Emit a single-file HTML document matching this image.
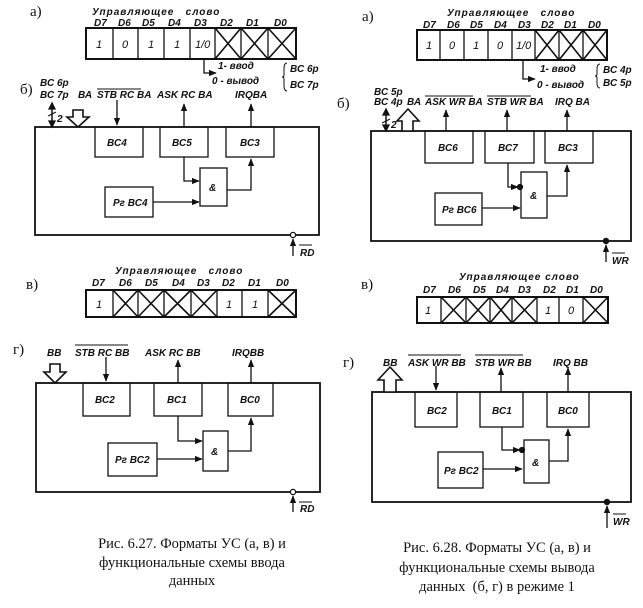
<!DOCTYPE html>
<html><head><meta charset="utf-8"><style>
html,body{margin:0;padding:0;background:#fff;}
svg{display:block;}
.l{font-family:"Liberation Sans","DejaVu Sans",sans-serif;font-style:italic;font-weight:bold;font-size:10px;fill:#111;}
.v{font-family:"Liberation Sans","DejaVu Sans",sans-serif;font-style:italic;font-size:11px;fill:#111;}
.p{font-family:"Liberation Serif","DejaVu Serif",serif;font-size:15px;fill:#111;}
.c{font-family:"Liberation Serif","DejaVu Serif",serif;font-size:14.5px;fill:#111;}
</style></head><body>
<svg width="643" height="608" viewBox="0 0 643 608" xmlns="http://www.w3.org/2000/svg">
<defs>
<marker id="a" viewBox="0 0 10 10" refX="9" refY="5" markerWidth="6" markerHeight="6" orient="auto"><path d="M0,1 L10,5 L0,9 z" fill="#111"/></marker>
</defs>
<g stroke="#111" fill="none" stroke-width="1.3">

<!-- ===== LEFT a) ===== -->
<rect x="86" y="28" width="210" height="31" stroke-width="2"/>
<path d="M113 28V59M138 28V59M164 28V59M190 28V59M215 28V59M241 28V59M268 28V59"/>
<path d="M215 28L241 59M241 28L215 59M241 28L268 59M268 28L241 59M268 28L296 59M296 28L268 59" stroke-width="1.6"/>
<path d="M204 59V73H216" marker-end="url(#a)"/>
<path d="M287 63q-3 0 -3 6v6q0 2 -2 2q2 0 2 2v6q0 6 3 6" stroke-width="1"/>

<!-- LEFT б) -->
<rect x="35" y="127" width="284" height="108" stroke-width="1.8"/>
<rect x="95" y="127" width="48" height="30"/>
<rect x="160" y="127" width="48" height="30"/>
<rect x="226" y="127" width="48" height="30"/>
<rect x="200" y="168" width="27" height="38"/>
<rect x="105" y="187" width="48" height="30"/>
<polygon points="73,110 83,110 83,117 89,117 78,127 67,117 73,117" stroke-width="1.6" fill="#fff"/>
<path d="M52 103V127" stroke-width="1.5"/>
<path d="M52 103l-3 6h6z M52 127l-3 -6h6z" fill="#111"/>
<path d="M48 116l8 -4" stroke-width="1"/>
<path d="M117 100V125" marker-end="url(#a)"/>
<path d="M184 127V104" marker-end="url(#a)"/>
<path d="M251 127V104" marker-end="url(#a)"/>
<path d="M184 157V181H199" marker-end="url(#a)"/>
<path d="M153 202H199" marker-end="url(#a)"/>
<path d="M227 190H251V159" marker-end="url(#a)"/>
<path d="M293 256V239" marker-end="url(#a)"/>
<circle cx="293" cy="235" r="2.6" fill="#fff"/>
<path d="M299 245H312" stroke-width="1"/>

<!-- ===== LEFT в) ===== -->
<rect x="86" y="290" width="210" height="27" stroke-width="2"/>
<path d="M113 290V317M138 290V317M164 290V317M191 290V317M217 290V317M242 290V317M268 290V317"/>
<path d="M113 290L138 317M138 290L113 317M138 290L164 317M164 290L138 317M164 290L191 317M191 290L164 317M191 290L217 317M217 290L191 317M268 290L296 317M296 290L268 317" stroke-width="1.6"/>

<!-- LEFT г) -->
<rect x="36" y="383" width="284" height="109" stroke-width="1.8"/>
<rect x="83" y="383" width="47" height="33"/>
<rect x="154" y="383" width="48" height="33"/>
<rect x="228" y="383" width="45" height="33"/>
<rect x="203" y="431" width="25" height="40"/>
<rect x="108" y="443" width="49" height="33"/>
<polygon points="50,364 60,364 60,372 66,372 55,383 44,372 50,372" stroke-width="1.6" fill="#fff"/>
<path d="M106 357V381" marker-end="url(#a)"/>
<path d="M178 383V360" marker-end="url(#a)"/>
<path d="M251 383V360" marker-end="url(#a)"/>
<path d="M178 416V441H202" marker-end="url(#a)"/>
<path d="M157 459H202" marker-end="url(#a)"/>
<path d="M228 451H251V418" marker-end="url(#a)"/>
<path d="M293 512V496" marker-end="url(#a)"/>
<circle cx="293" cy="492" r="2.6" fill="#fff"/>
<path d="M299 502H312" stroke-width="1"/>

<!-- ===== RIGHT a) ===== -->
<rect x="417" y="30" width="190" height="30" stroke-width="2"/>
<path d="M440 30V60M464 30V60M488 30V60M512 30V60M535 30V60M559 30V60M583 30V60"/>
<path d="M535 30L559 60M559 30L535 60M559 30L583 60M583 30L559 60M583 30L607 60M607 30L583 60" stroke-width="1.6"/>
<path d="M523 60V79H535" marker-end="url(#a)"/>
<path d="M600 64q-3 0 -3 5v5q0 2 -2 2q2 0 2 2v5q0 5 3 5" stroke-width="1"/>

<!-- RIGHT б) -->
<rect x="371" y="131" width="260" height="110" stroke-width="1.8"/>
<rect x="425" y="131" width="48" height="32"/>
<rect x="485" y="131" width="49" height="32"/>
<rect x="545" y="131" width="48" height="32"/>
<rect x="521" y="172" width="26" height="46"/>
<rect x="435" y="193" width="47" height="32"/>
<polygon points="402,131 413,131 413,121 419,121 408,109 397,121 402,121" stroke-width="1.6" fill="#fff"/>
<path d="M386 109V131" stroke-width="1.5"/>
<path d="M386 109l-3 6h6z M386 131l-3 -6h6z" fill="#111"/>
<path d="M382 123l8 -4" stroke-width="1"/>
<path d="M446 131V110" marker-end="url(#a)"/>
<path d="M507 131V110" marker-end="url(#a)"/>
<path d="M567 131V110" marker-end="url(#a)"/>
<path d="M508 163V187H518" marker-end="url(#a)"/>
<circle cx="520" cy="187" r="2.5" fill="#111"/>
<path d="M482 208H520" marker-end="url(#a)"/>
<path d="M547 196H567V165" marker-end="url(#a)"/>
<path d="M606 262V245" marker-end="url(#a)"/>
<circle cx="606" cy="241" r="2.6" fill="#111"/>
<path d="M612 253H625" stroke-width="1"/>

<!-- ===== RIGHT в) ===== -->
<rect x="417" y="297" width="191" height="26" stroke-width="2"/>
<path d="M441 297V323M466 297V323M490 297V323M512 297V323M537 297V323M559 297V323M583 297V323"/>
<path d="M441 297L466 323M466 297L441 323M466 297L490 323M490 297L466 323M490 297L512 323M512 297L490 323M512 297L537 323M537 297L512 323M583 297L608 323M608 297L583 323" stroke-width="1.6"/>

<!-- RIGHT г) -->
<rect x="372" y="392" width="259" height="110" stroke-width="1.8"/>
<rect x="415" y="392" width="42" height="35"/>
<rect x="480" y="392" width="43" height="35"/>
<rect x="547" y="392" width="42" height="35"/>
<rect x="524" y="440" width="25" height="43"/>
<rect x="438" y="452" width="45" height="36"/>
<polygon points="384,392 396,392 396,380 402,380 390,367 378,380 384,380" stroke-width="1.6" fill="#fff"/>
<path d="M436 366V390" marker-end="url(#a)"/>
<path d="M501 392V368" marker-end="url(#a)"/>
<path d="M568 392V368" marker-end="url(#a)"/>
<path d="M502 427V450H520" marker-end="url(#a)"/>
<circle cx="522" cy="450" r="2.5" fill="#111"/>
<path d="M483 469H522" marker-end="url(#a)"/>
<path d="M549 461H568V429" marker-end="url(#a)"/>
<path d="M607 528V506" marker-end="url(#a)"/>
<circle cx="607" cy="502" r="2.6" fill="#111"/>
<path d="M613 514H626" stroke-width="1"/>

<!-- overlines -->
<path d="M97 89H141M75 345H128M425 96H473M487 96H531M408 355H461M475 355H523" stroke-width="1"/>
</g>

<!-- ===== TEXT ===== -->
<g class="p">
<text x="30" y="16">а)</text>
<text x="20" y="94">б)</text>
<text x="26" y="289">в)</text>
<text x="13" y="354">г)</text>
<text x="362" y="21">а)</text>
<text x="337" y="108">б)</text>
<text x="361" y="289">в)</text>
<text x="343" y="367">г)</text>
</g>
<g class="l">
<text x="92" y="15" letter-spacing="1">Управляющее&#160;&#160;&#160;слово</text>
<text x="94" y="26">D7</text><text x="118" y="26">D6</text><text x="142" y="26">D5</text><text x="168" y="26">D4</text><text x="194" y="26">D3</text><text x="220" y="26">D2</text><text x="246" y="26">D1</text><text x="274" y="26">D0</text>
<text x="218" y="69">1- ввод</text>
<text x="212" y="84">0 - вывод</text>
<text x="290" y="72">ВС 6р</text>
<text x="290" y="88">ВС 7р</text>
<text x="40" y="86">ВС 6р</text>
<text x="40" y="98">ВС 7р</text>
<text x="78" y="98">ВА</text>
<text x="97" y="98">STB RC BA</text>
<text x="157" y="98">ASK RC BA</text>
<text x="235" y="98">IRQBA</text>
<text x="57" y="122">2</text>
<text x="107" y="146">ВС4</text>
<text x="172" y="146">ВС5</text>
<text x="240" y="146">ВС3</text>
<text x="209" y="191">&amp;</text>
<text x="113" y="206">Рг ВС4</text>
<text x="300" y="256">RD</text>

<text x="115" y="274" letter-spacing="1">Управляющее&#160;&#160;&#160;слово</text>
<text x="92" y="286">D7</text><text x="119" y="286">D6</text><text x="145" y="286">D5</text><text x="172" y="286">D4</text><text x="197" y="286">D3</text><text x="222" y="286">D2</text><text x="248" y="286">D1</text><text x="276" y="286">D0</text>
<text x="47" y="356">ВВ</text>
<text x="75" y="356">STB RC BB</text>
<text x="145" y="356">ASK RC BB</text>
<text x="232" y="356">IRQBB</text>
<text x="95" y="403">ВС2</text>
<text x="167" y="403">ВС1</text>
<text x="240" y="403">ВС0</text>
<text x="211" y="455">&amp;</text>
<text x="115" y="463">Рг ВС2</text>
<text x="300" y="512">RD</text>

<text x="447" y="16" letter-spacing="1">Управляющее&#160;&#160;&#160;слово</text>
<text x="423" y="28">D7</text><text x="447" y="28">D6</text><text x="470" y="28">D5</text><text x="494" y="28">D4</text><text x="518" y="28">D3</text><text x="541" y="28">D2</text><text x="564" y="28">D1</text><text x="588" y="28">D0</text>
<text x="540" y="72">1- ввод</text>
<text x="537" y="88">0 - вывод</text>
<text x="603" y="73">ВС 4р</text>
<text x="603" y="86">ВС 5р</text>
<text x="374" y="95">ВС 5р</text>
<text x="374" y="105">ВС 4р</text>
<text x="407" y="105">ВА</text>
<text x="425" y="105">ASK WR BA</text>
<text x="487" y="105">STB WR BA</text>
<text x="555" y="105">IRQ BA</text>
<text x="391" y="128">2</text>
<text x="438" y="151">ВС6</text>
<text x="498" y="151">ВС7</text>
<text x="558" y="151">ВС3</text>
<text x="530" y="199">&amp;</text>
<text x="442" y="213">Рг ВС6</text>
<text x="612" y="264">WR</text>

<text x="459" y="280" letter-spacing="1">Управляющее слово</text>
<text x="423" y="293">D7</text><text x="448" y="293">D6</text><text x="473" y="293">D5</text><text x="496" y="293">D4</text><text x="518" y="293">D3</text><text x="543" y="293">D2</text><text x="566" y="293">D1</text><text x="590" y="293">D0</text>
<text x="383" y="366">ВВ</text>
<text x="408" y="366">ASK WR BB</text>
<text x="475" y="366">STB WR BB</text>
<text x="553" y="366">IRQ BB</text>
<text x="427" y="414">ВС2</text>
<text x="492" y="414">ВС1</text>
<text x="558" y="414">ВС0</text>
<text x="532" y="466">&amp;</text>
<text x="444" y="474">Рг ВС2</text>
<text x="613" y="525">WR</text>
</g>
<g class="v">
<text x="96" y="48">1</text><text x="122" y="48">0</text><text x="148" y="48">1</text><text x="174" y="48">1</text><text x="195" y="48">1/0</text>
<text x="96" y="308">1</text><text x="226" y="308">1</text><text x="252" y="308">1</text>
<text x="426" y="49">1</text><text x="449" y="49">0</text><text x="473" y="49">1</text><text x="497" y="49">0</text><text x="516" y="49">1/0</text>
<text x="425" y="314">1</text><text x="545" y="314">1</text><text x="568" y="314">0</text>
</g>
<g class="c" text-anchor="middle">
<text x="192" y="548">Рис. 6.27. Форматы УС (а, в) и</text>
<text x="192" y="567">функциональные схемы ввода</text>
<text x="192" y="585">данных</text>
<text x="497" y="552">Рис. 6.28. Форматы УС (а, в) и</text>
<text x="497" y="572">функциональные схемы вывода</text>
<text x="497" y="591" xml:space="preserve">данных  (б, г) в режиме 1</text>
</g>
</svg>
</body></html>
